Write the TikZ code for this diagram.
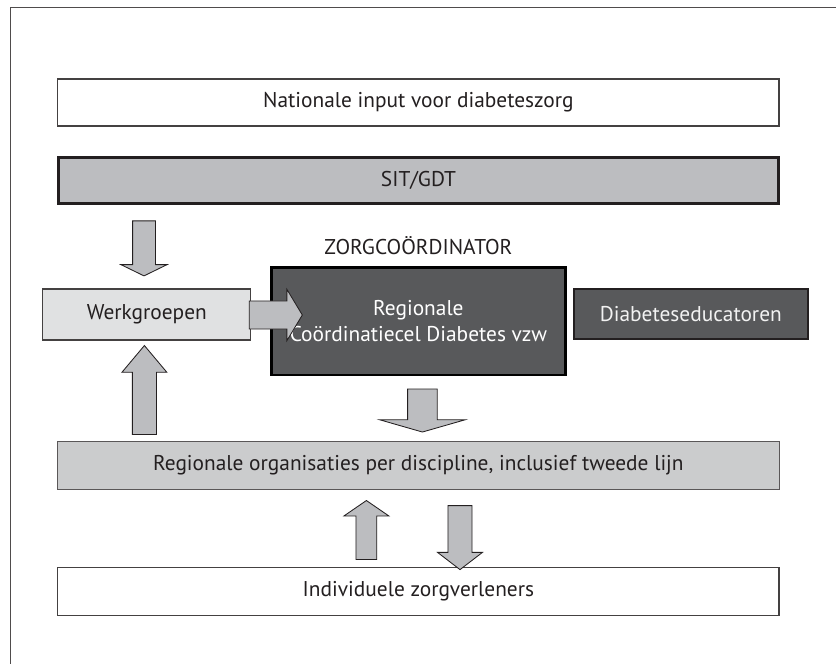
\documentclass[tikz,border=0pt]{standalone}
\usepackage{fontspec}
\setmainfont{PT Sans}
\usepackage{tikz}
\usetikzlibrary{positioning}
\usetikzlibrary{shapes.arrows}

\definecolor{inkgray}{HTML}{231F20}
\definecolor{midgray}{HTML}{BCBDC0}
\definecolor{lightgray}{HTML}{E0E1E2}
\definecolor{paleband}{HTML}{CBCCCD}
\definecolor{darkbox}{HTML}{58595B}

\tikzset{
	whitebox/.style={draw=inkgray!85, line width=0.9pt, fill=white,
		minimum width=18.03cm, minimum height=1.175cm},
	bigarrow/.style={single arrow, draw=inkgray, line width=0.6pt,
		fill=midgray, inner sep=0pt}
}

\begin{document}
\begin{tikzpicture}[node distance=2cm,on grid,
	every node/.style={text=inkgray, font=\fontsize{15.2}{18}\selectfont}]

		\useasboundingbox (0,0) rectangle (20.9,-16.6);
		% open frame
		\draw[inkgray!80, line width=0.8pt] (20.9,-0.19) -- (0.26,-0.19) -- (0.26,-16.6);

		% Box 1
		\node[whitebox] (nationaal) at (10.46,-2.56) {Nationale input voor diabeteszorg};

		% Box 2
		\node[fill=midgray,
			draw=inkgray,
			line width=2pt,
			minimum width=18.0cm, minimum height=1.15cm,
			below = 1.95cm of nationaal] (sitgdt) {SIT/GDT};

		% Box 3
		\node[fill=darkbox,
			draw=black,
			line width=1.6pt,
			text=white, align=center,
			minimum width=7.35cm, minimum height=2.68cm,
			below = 3.52cm of sitgdt] (cel) {Regionale\\Coördinatiecel Diabetes vzw};
		\node[above = 1.88cm of cel] (zorgcoord) {ZORGCOÖRDINATOR};

		% Box 4
		\node[fill=lightgray,
			draw=inkgray!85,
			line width=0.9pt,
			minimum width=5.2cm, minimum height=1.275cm,
			above left = 0.17cm and 6.79cm of cel] (werk) {Werkgroepen};

		% Box 5
		\node[fill=darkbox,
			draw=inkgray,
			line width=1.5pt,
			text=white!95!black,
			minimum width=5.85cm, minimum height=1.27cm,
			above right = 0.18cm and 6.81cm of cel] (educ) {Diabeteseducatoren};

		% Box 6
		\node[fill=paleband,
			draw=inkgray!75,
			line width=1.1pt,
			minimum width=18.05cm, minimum height=1.2cm,
			below = 3.61cm of cel] (regorg) {Regionale organisaties per discipline, inclusief tweede lijn};

		% Box 7
		\node[whitebox, minimum height=1.2cm,
			below = 3.14cm of regorg] (indiv) {Individuele zorgverleners};

		% block arrows
		\node[bigarrow, shape border rotate=270, minimum height=1.375cm, minimum width=1.125cm,
			inner sep=0.275cm, single arrow head extend=0.29cm, single arrow tip angle=128]
			(pijl1) at (3.6,-6.14) {};
		\node[bigarrow, minimum height=1.325cm, minimum width=1.25cm,
			inner sep=0.34cm, single arrow head extend=0.29cm, single arrow tip angle=118]
			(pijl2) at (6.79,-7.875) {};
		\node[bigarrow, shape border rotate=90, minimum height=2.225cm, minimum width=1.1cm,
			inner sep=0.29cm, single arrow head extend=0.26cm, single arrow tip angle=80]
			(pijl3) at (3.61,-9.93) {};
		\node[bigarrow, shape border rotate=270, minimum height=1.075cm, minimum width=2.125cm,
			inner sep=0.36cm, single arrow head extend=0.7cm, single arrow tip angle=148]
			(pijl4) at (10.56,-10.21) {};
		\node[bigarrow, shape border rotate=90, minimum height=1.475cm, minimum width=1.1cm,
			inner sep=0.25cm, single arrow head extend=0.3cm, single arrow tip angle=111]
			(pijl5) at (9.16,-13.34) {};
		\node[bigarrow, shape border rotate=270, minimum height=1.6cm, minimum width=1.1cm,
			inner sep=0.29cm, single arrow head extend=0.26cm, single arrow tip angle=105]
			(pijl6) at (11.5,-13.325) {};

	\end{tikzpicture}
\end{document}
